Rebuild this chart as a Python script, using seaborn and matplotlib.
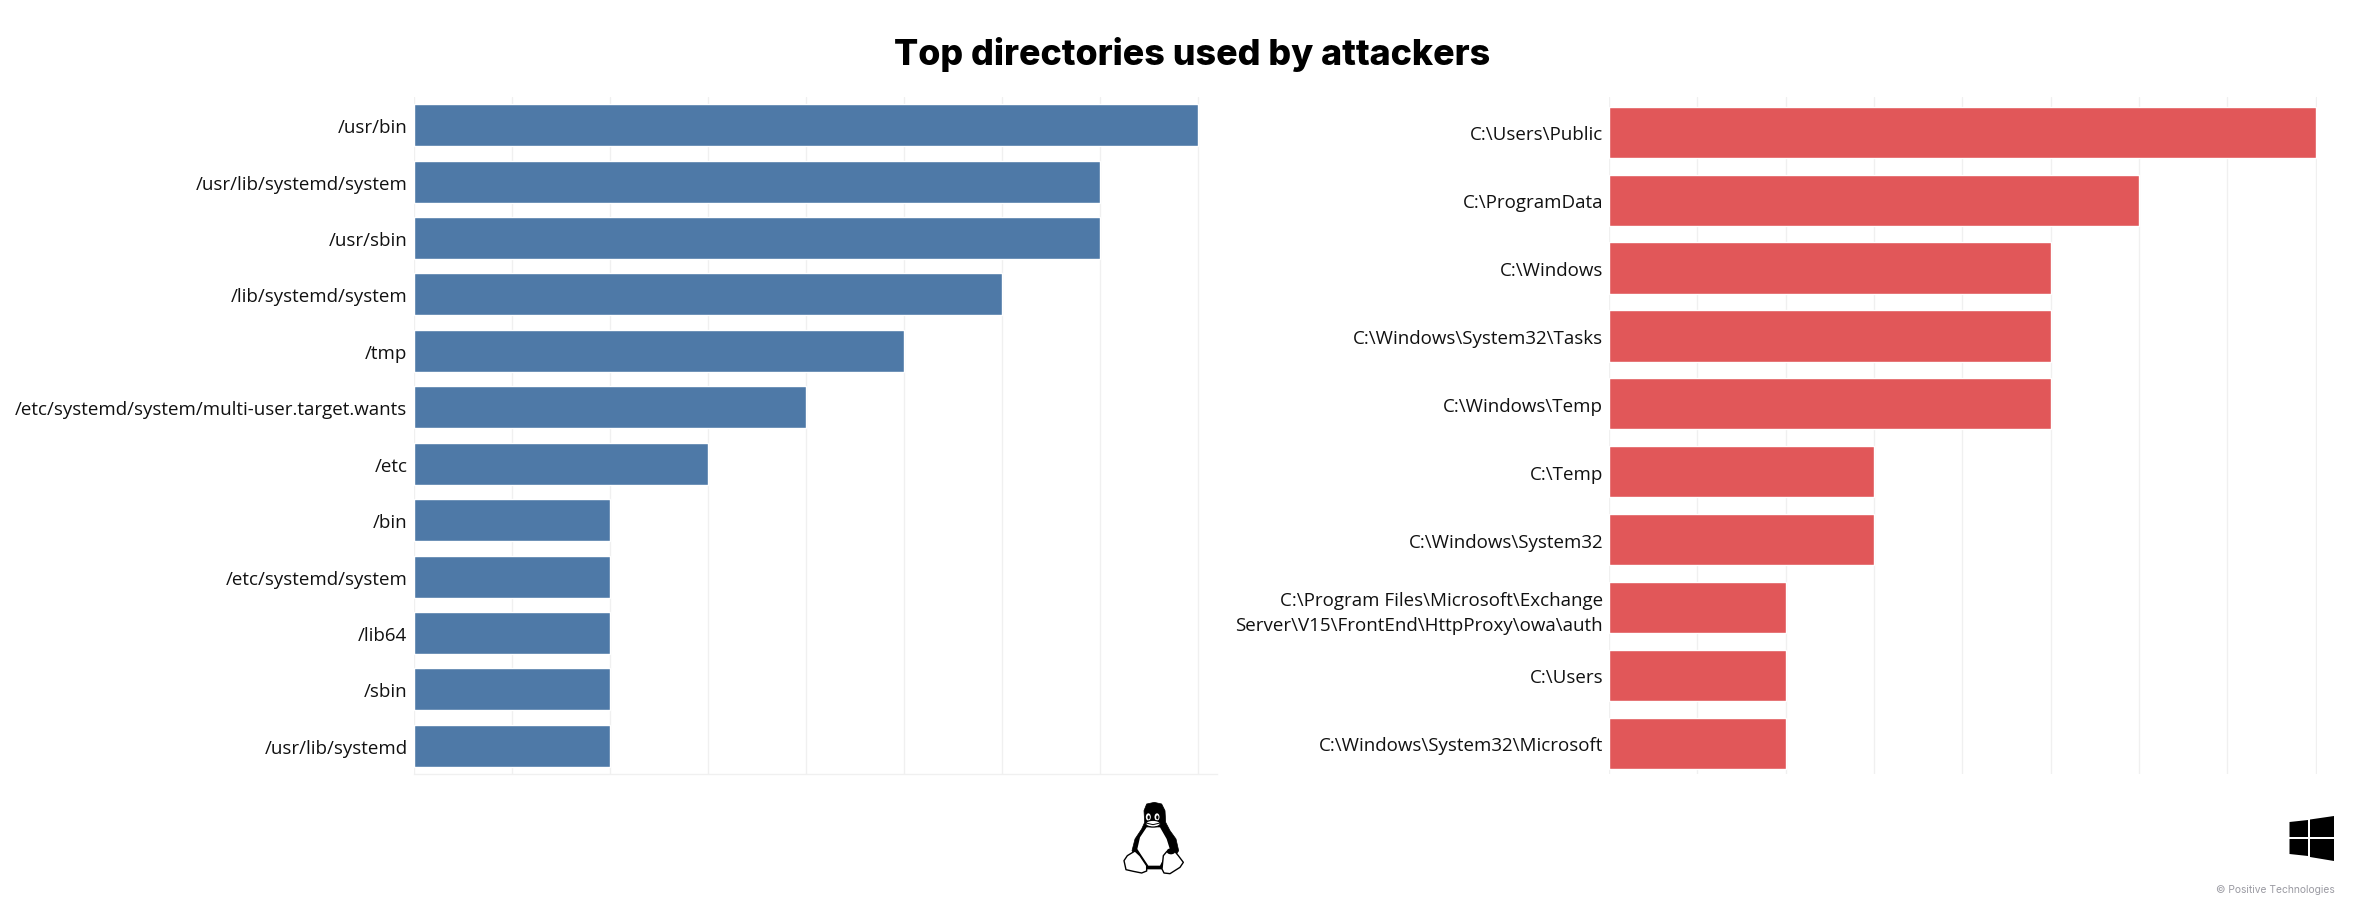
import numpy as np
import seaborn as sns
import matplotlib.pyplot as plt
from matplotlib.patches import Ellipse, Polygon

# data
linux_dirs = ['/usr/bin', '/usr/lib/systemd/system', '/usr/sbin', '/lib/systemd/system', '/tmp',
              '/etc/systemd/system/multi-user.target.wants', '/etc', '/bin', '/etc/systemd/system',
              '/lib64', '/sbin', '/usr/lib/systemd']
linux_counts = [8, 7, 7, 6, 5, 4, 3, 2, 2, 2, 2, 2]
windows_dirs = ['C:\\Users\\Public', 'C:\\ProgramData', 'C:\\Windows', 'C:\\Windows\\System32\\Tasks',
                'C:\\Windows\\Temp', 'C:\\Temp', 'C:\\Windows\\System32',
                'C:\\Program Files\\Microsoft\\Exchange\nServer\\V15\\FrontEnd\\HttpProxy\\owa\\auth',
                'C:\\Users', 'C:\\Windows\\System32\\Microsoft']
windows_counts = [8, 6, 5, 5, 5, 3, 3, 2, 2, 2]

W, H = 2376, 912
blue = '#4E79A7'
red = '#E15759'
grid_color = '#F0F0F0'
label_font = 'Open Sans'

sns.set_theme(style='white')
plt.rcParams['font.family'] = [label_font, 'DejaVu Sans']

fig = plt.figure(figsize=(W / 100, H / 100), dpi=100, facecolor='white')


def px_axes(x0, y0, x1, y1, **kw):
    # axes from pixel box, y counted from the top
    return fig.add_axes([x0 / W, 1 - y1 / H, (x1 - x0) / W, (y1 - y0) / H], **kw)


def draw_bars(ax, labels, values, color, bar_h, xmax, y_bottom, y_top=-0.5):
    sns.barplot(x=values, y=labels, ax=ax, color=color, saturation=1, width=bar_h, zorder=3)
    ax.set_xlim(0, xmax)
    ax.set_ylim(y_bottom, y_top)
    ax.set_xticks(range(0, 9))
    ax.xaxis.grid(True, color=grid_color, linewidth=1)
    ax.yaxis.grid(False)
    ax.set_axisbelow(True)
    ax.set_xlabel('')
    ax.set_ylabel('')
    ax.tick_params(axis='x', length=0, labelbottom=False)
    ax.tick_params(axis='y', length=0, pad=4.3, labelsize=13.5, labelcolor='#111111')
    for s in ax.spines.values():
        s.set_visible(False)
    for t in ax.get_yticklabels():
        t.set_multialignment('right')
        t.set_linespacing(1.5)


ax_l = px_axes(413.5, 98, 1217, 775)
draw_bars(ax_l, linux_dirs, linux_counts, blue, 0.745, 803.5 / 98, 11.5)
ax_l.spines['bottom'].set_visible(True)
ax_l.spines['bottom'].set_color(grid_color)
ax_l.spines['bottom'].set_linewidth(1)

ax_r = px_axes(1609, 98, 2317, 775)
draw_bars(ax_r, windows_dirs, windows_counts, red, 0.755, 708 / 88.35, 9.454, -0.52)

fig.text(1192 / W, 1 - 55 / H, 'Top directories used by attackers', ha='center', va='center',
         fontsize=25.8, fontweight=800, family=['Inter', 'DejaVu Sans'], color='#000000')
fig.text(2335 / W, 1 - 890 / H, '\u00a9 Positive Technologies', ha='right', va='center',
         fontsize=7.4, family=['Inter', 'DejaVu Sans'], color='#9A9AA2')

# windows logo
ax_w = px_axes(2285, 812, 2338, 867)
ax_w.set_xlim(2285, 2338)
ax_w.set_ylim(867, 812)
ax_w.axis('off')
for pts in ([(2289.5, 823), (2308, 821), (2308, 838), (2289.5, 838)],
            [(2310, 820.5), (2334, 817), (2334, 838), (2310, 838)],
            [(2289.5, 840), (2308, 840), (2308, 857), (2289.5, 855)],
            [(2310, 840), (2334, 840), (2334, 862), (2310, 858)]):
    ax_w.add_patch(Polygon(pts, closed=True, fc='black', ec='none'))

# penguin, coordinates follow the crop of the logo
ax_p = px_axes(1120, 800, 1187, 880)
ax_p.set_xlim(360, 561)
ax_p.set_ylim(600, 360)
ax_p.axis('off')
body = [(432, 395), (440, 375), (463, 370), (485, 375), (495, 395), (497, 430), (510, 455), (528, 480),
        (536, 515), (520, 540), (490, 570), (440, 570), (410, 540), (396, 515), (405, 480), (425, 450),
        (434, 430)]
ax_p.add_patch(Polygon(body, closed=True, fc='black', ec='black', lw=0.5, joinstyle='round'))
belly = [(440, 445), (480, 445), (500, 480), (511, 515), (490, 540), (480, 560), (445, 560), (425, 530),
         (412, 510), (420, 475)]
ax_p.add_patch(Polygon(belly, closed=True, fc='white', ec='none', joinstyle='round'))
for cx in (445, 471):
    ax_p.add_patch(Ellipse((cx, 414), 15, 22, fc='white', ec='none'))
    ax_p.add_patch(Ellipse((cx + 1, 415), 7, 12, fc='black', ec='none'))
ax_p.add_patch(Ellipse((459, 434), 44, 20, fc='white', ec='black', lw=0.8))
ax_p.plot([438, 459, 480], [432, 437, 432], color='black', lw=0.7)
foot_l = [(372, 545), (382, 530), (405, 516), (420, 530), (440, 560), (440, 576), (425, 582), (400, 577),
          (378, 572)]
foot_r = [(490, 530), (500, 518), (520, 512), (535, 530), (550, 550), (540, 565), (510, 584), (492, 582),
          (486, 570)]
for foot in (foot_l, foot_r):
    ax_p.add_patch(Polygon(foot, closed=True, fc='white', ec='black', lw=1.0, joinstyle='round', zorder=4))
ax_p.add_patch(Ellipse((513, 517), 26, 18, fc='black', ec='none', zorder=5))

fig.savefig('out.png', dpi=100, facecolor='white')
